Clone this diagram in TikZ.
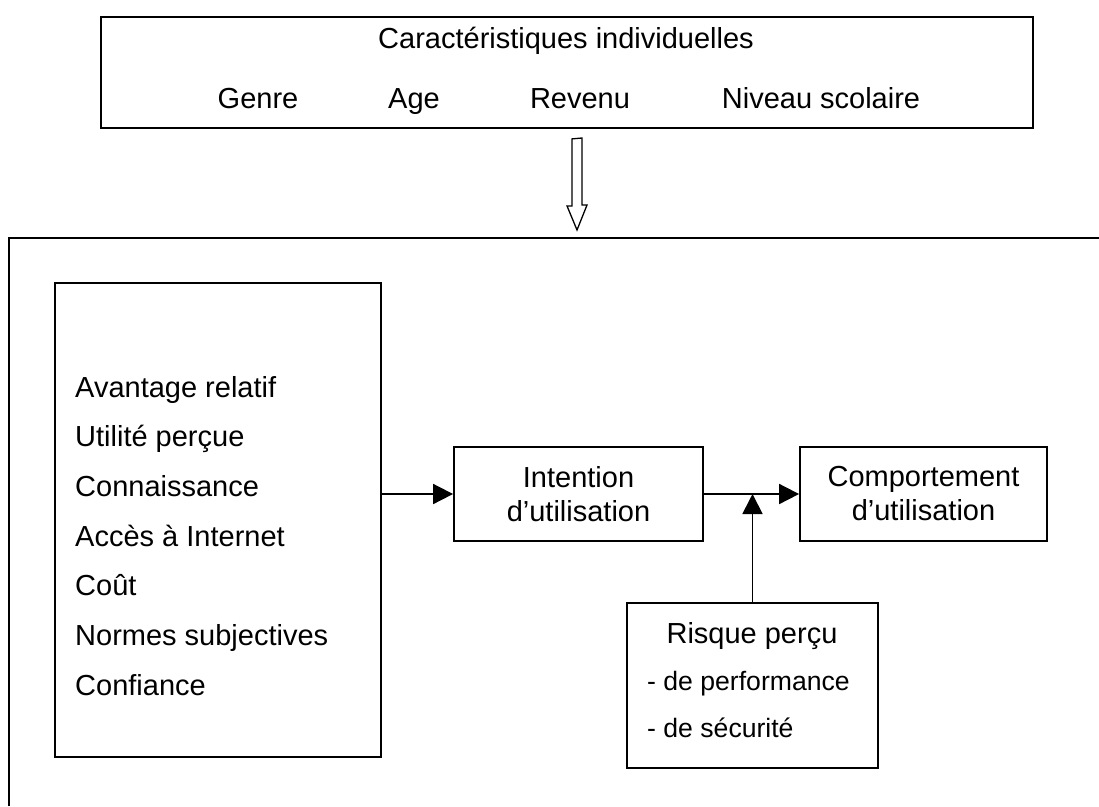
\documentclass[tikz,border=0pt]{standalone}
\usepackage{fontspec}
\setmainfont{Liberation Sans}
\usepackage{tikz}
\usetikzlibrary{arrows.meta}

\tikzset{
  boite/.style={draw, line width=1.8pt, inner sep=0pt, align=center,
    font=\fontsize{29}{34}\selectfont},
  texte/.style={inner sep=0pt, anchor=base, font=\fontsize{29}{34}\selectfont},
  petit/.style={texte, anchor=base west, font=\fontsize{26.6}{31}\selectfont},
  fleche/.style={line width=1.8pt, -{Triangle[length=20pt,width=20pt]}}
}

\begin{document}
\begin{tikzpicture}[x=1pt, y=-1pt]
            \useasboundingbox (0,0) rectangle (1099,806);
            % Draw the top box with the individual characteristics
            \node[boite, minimum width=932pt, minimum height=111pt] (indiv) at (567,72.5) {};
            \node[texte] (titre) at (566,48) {Caractéristiques individuelles};
            \node[texte] (genre) at (258,108) {Genre};
            \node[texte] (age) at (414,108) {Age};
            \node[texte] (revenu) at (580,108) {Revenu};
            \node[texte] (niveau) at (821,108) {Niveau scolaire};
            % Hollow arrow down to the model
            \coordinate (pointe) at (577,230);
            \draw[line width=1.3pt] ([xshift=-5pt,yshift=-10pt]indiv.south -| pointe)
                         -- ++(0,67) -- ++(-5,0) -- (pointe) -- ++(10,-25)
                         -- ++(-5,0) -- ++(0,-67) -- cycle;
            % Outer frame, cut off at the right and at the bottom
            \draw[line width=1.8pt] (9,806) -- (9,238) -- (1099,238);
            % Boxes of the model
            \node[boite, minimum width=326pt, minimum height=474pt] (facteurs) at (218,520) {};
            \foreach \txt [count=\i] in {Avantage relatif, Utilité perçue, Connaissance,
                    Accès à Internet, Coût, Normes subjectives, Confiance}
              \node[texte, anchor=base west] (item\i) at (75,347.3+49.7*\i) {\txt};
            \node[boite, minimum width=249pt, minimum height=94pt] (intention) at (578.5,494) {Intention\\d’utilisation};
            \node[boite, minimum width=247pt, minimum height=94pt] (comportement) at (923.5,494) {Comportement\\d’utilisation};
            \node[boite, minimum width=251pt, minimum height=165pt] (risque) at (752.5,685.5) {};
            \node[texte] (risquetitre) at (752,643) {Risque perçu};
            \node[petit] (perf) at (647,690) {- de performance};
            \node[petit] (secu) at (647,737) {- de sécurité};
            % Arrows
            \draw[fleche] (facteurs.east |- intention.west) -- (intention.west);
            \draw[fleche] (intention.east) -- (comportement.west);
            \draw[fleche] (risque.north) -- (risque.north |- intention.east);
        \end{tikzpicture}
\end{document}
